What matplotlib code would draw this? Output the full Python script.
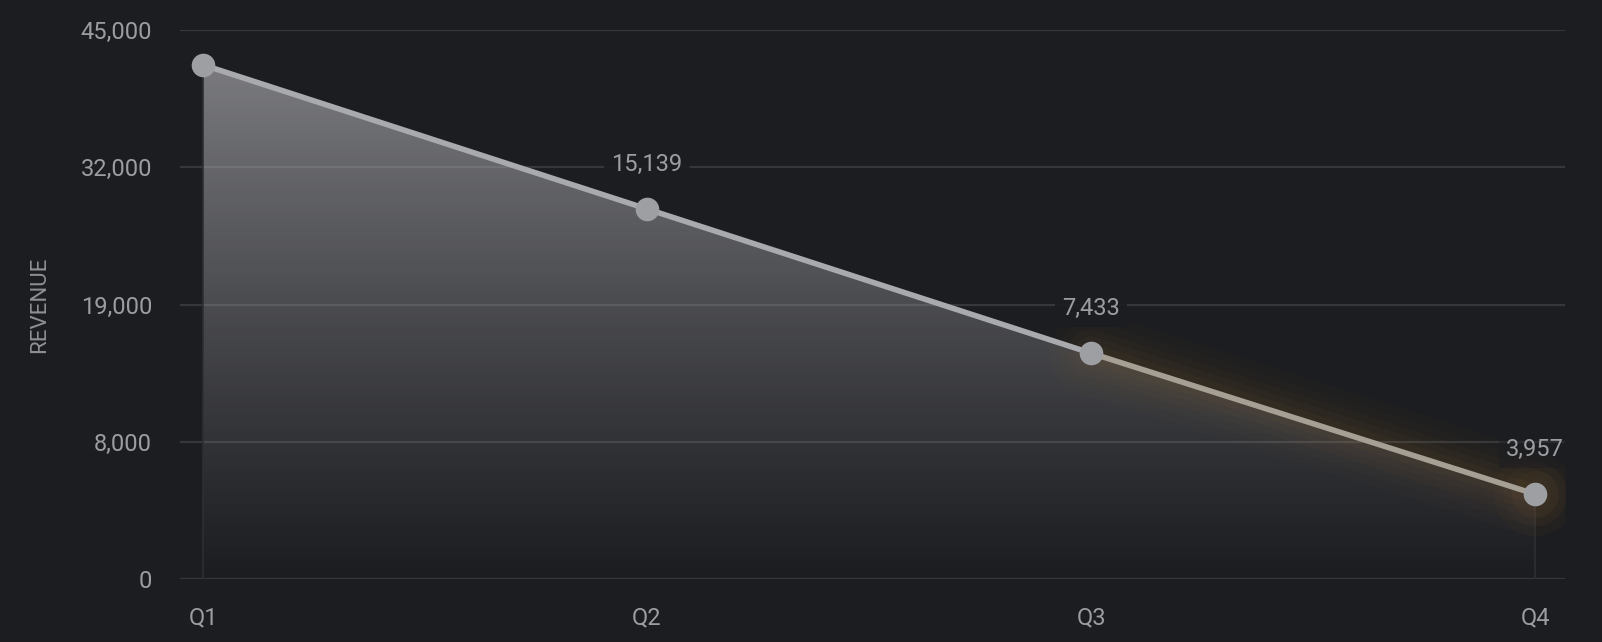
import numpy as np
import matplotlib
matplotlib.use("Agg")
import matplotlib.pyplot as plt
from matplotlib.patches import Polygon

quarters = ["Q1", "Q2", "Q3", "Q4"]
revenue = [41700, 28050, 15100, 4950]
point_labels = ["", "15,139", "7,433", "3,957"]
tick_values = [0, 8000, 19000, 32000, 45000]
tick_labels = ["0", "8,000", "19,000", "32,000", "45,000"]

BG = "#1c1d20"
GRID = "#36373b"
TXT = "#9c9da1"

plt.rcParams['font.family'] = ['Roboto', 'DejaVu Sans']

fig = plt.figure(figsize=(16.02, 6.42), dpi=100, facecolor=BG)
ax = fig.add_axes([180/1602, 1 - 579/642, (1565-180)/1602, (579-30)/642])
ax.set_facecolor(BG)

idx = np.arange(len(tick_values))
fwd = lambda y: np.interp(y, tick_values, idx)
inv = lambda p: np.interp(p, idx, tick_values)
ax.set_yscale('function', functions=(fwd, inv))
ax.set_ylim(0, 45000)
x = np.arange(len(quarters))
xl = (-23/444, 3 + 30/444)
ax.set_xlim(*xl)

for s in ax.spines.values():
    s.set_visible(False)
ax.set_yticks(tick_values)
ax.set_yticklabels(tick_labels)
ax.set_xticks(x)
ax.set_xticklabels(quarters)
ax.tick_params(axis='both', length=0, colors=TXT, labelsize=17)
ax.tick_params(axis='y', pad=20)
ax.tick_params(axis='x', pad=20)
ax.grid(axis='y', color=GRID, linewidth=1.6)
ax.set_axisbelow(True)
ax.set_ylabel("REVENUE", color="#8e8f93", fontsize=16, labelpad=22)

# gradient fill under the line
verts = [(x[0], 0)] + list(zip(x, revenue)) + [(x[-1], 0)]
poly = Polygon(verts, closed=True, facecolor='none', edgecolor='none', transform=ax.transData)
ax.add_patch(poly)
grad = np.linspace(0, 1, 256).reshape(-1, 1)
rgba = np.zeros((256, 1, 4))
rgba[..., 0] = 0.62
rgba[..., 1] = 0.62
rgba[..., 2] = 0.64
rgba[..., 3] = (grad ** 1.1) * 0.78
x0 = (0 - xl[0]) / (xl[1] - xl[0])
x1 = (3 - xl[0]) / (xl[1] - xl[0])
im = ax.imshow(rgba, extent=[x0, x1, 0, 1], origin='lower', aspect='auto',
               transform=ax.transAxes, zorder=1)
im.set_clip_path(poly)

# thin vertical edges
for xi, yi in zip([x[0], x[-1]], [revenue[0], revenue[-1]]):
    ax.plot([xi, xi], [0, yi], color="#2e2f33", lw=1.2, zorder=2)

# soft orange glow around last segment
for w, a in [(60, 0.025), (46, 0.03), (34, 0.035), (24, 0.04), (14, 0.05)]:
    ax.plot(x[2:], revenue[2:], color="#a8783a", lw=w, alpha=a,
            solid_capstyle='round', zorder=2)
for ms, a in [(60, 0.03), (46, 0.04), (34, 0.05)]:
    ax.plot(x[3], revenue[3], 'o', ms=ms, color="#a8783a", alpha=a, mec='none', zorder=2)

ax.plot(x[:3], revenue[:3], color="#a9aaae", lw=4, zorder=3, solid_capstyle='round')
ax.plot(x[2:], revenue[2:], color="#a59f94", lw=4, zorder=3, solid_capstyle='round')
ax.plot(x, revenue, 'o', ms=17, color="#9e9fa3", mec='none', zorder=4, clip_on=False)

for i, (xi, yi, lab) in enumerate(zip(x, revenue, point_labels)):
    if lab:
        ax.annotate(lab, (xi, yi), xytext=(0, 32), textcoords='offset points',
                    ha='center', va='center', color=TXT, fontsize=17, zorder=5,
                    bbox=dict(boxstyle='square,pad=0.3', fc=BG, ec='none',
                              alpha=0.9 if i < 3 else 0.45),
                    annotation_clip=False)

fig.savefig("out.png", dpi=100, facecolor=BG)
